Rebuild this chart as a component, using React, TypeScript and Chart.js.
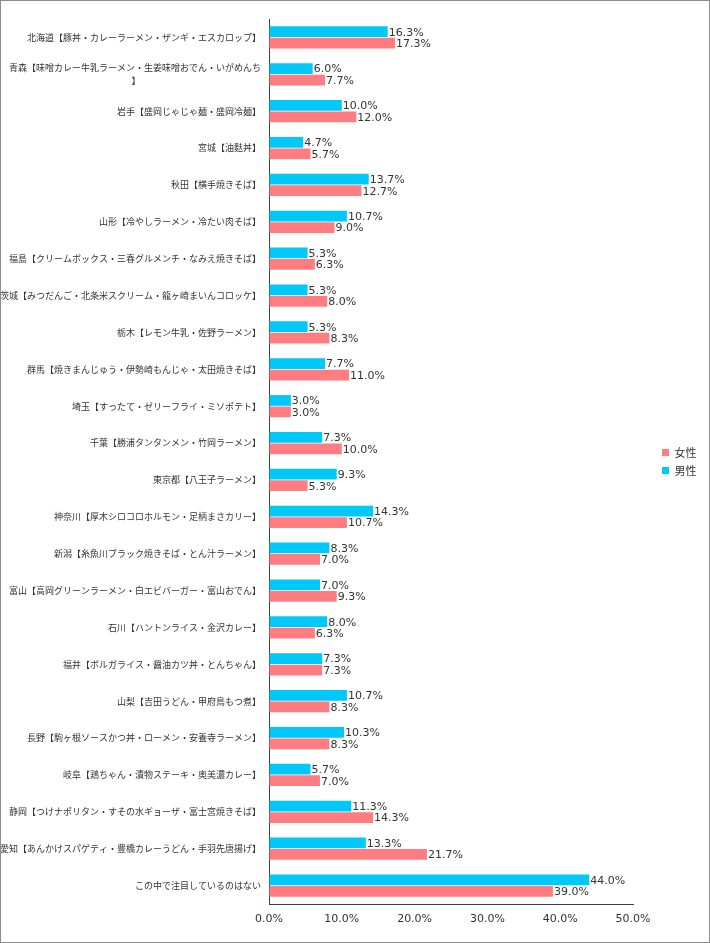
import React, { useEffect, useRef } from "react";
import { Chart, registerables } from "chart.js";

Chart.register(...registerables);

const categories: (string | string[])[] = [
  "北海道【豚丼・カレーラーメン・ザンギ・エスカロップ】",
  ["青森【味噌カレー牛乳ラーメン・生姜味噌おでん・いがめんち", "】"],
  "岩手【盛岡じゃじゃ麺・盛岡冷麺】",
  "宮城【油麩丼】",
  "秋田【横手焼きそば】",
  "山形【冷やしラーメン・冷たい肉そば】",
  "福島【クリームボックス・三春グルメンチ・なみえ焼きそば】",
  "茨城【みつだんご・北条米スクリーム・龍ヶ崎まいんコロッケ】",
  "栃木【レモン牛乳・佐野ラーメン】",
  "群馬【焼きまんじゅう・伊勢崎もんじゃ・太田焼きそば】",
  "埼玉【すったて・ゼリーフライ・ミソポテト】",
  "千葉【勝浦タンタンメン・竹岡ラーメン】",
  "東京都【八王子ラーメン】",
  "神奈川【厚木シロコロホルモン・足柄まさカリー】",
  "新潟【糸魚川ブラック焼きそば・とん汁ラーメン】",
  "富山【高岡グリーンラーメン・白エビバーガー・富山おでん】",
  "石川【ハントンライス・金沢カレー】",
  "福井【ボルガライス・醤油カツ丼・とんちゃん】",
  "山梨【吉田うどん・甲府鳥もつ煮】",
  "長野【駒ヶ根ソースかつ丼・ローメン・安養寺ラーメン】",
  "岐阜【鶏ちゃん・漬物ステーキ・奥美濃カレー】",
  "静岡【つけナポリタン・すその水ギョーザ・富士宮焼きそば】",
  "愛知【あんかけスパゲティ・豊橋カレーうどん・手羽先唐揚げ】",
  "この中で注目しているのはない",
];

const maleValues = [
  16.3, 6.0, 10.0, 4.7, 13.7, 10.7, 5.3, 5.3, 5.3, 7.7, 3.0, 7.3, 9.3, 14.3,
  8.3, 7.0, 8.0, 7.3, 10.7, 10.3, 5.7, 11.3, 13.3, 44.0,
];
const femaleValues = [
  17.3, 7.7, 12.0, 5.7, 12.7, 9.0, 6.3, 8.0, 8.3, 11.0, 3.0, 10.0, 5.3, 10.7,
  7.0, 9.3, 6.3, 7.3, 8.3, 8.3, 7.0, 14.3, 21.7, 39.0,
];

const seriesNames = ["男性", "女性"];
const xTicks = [0, 10, 20, 30, 40, 50];

const MALE_COLOR = "#00C8F8";
const FEMALE_COLOR = "#FF7C80";
const TEXT_COLOR = "#333333";
const NUM_FONT = "DejaVu Sans";
const JP_FONT = "'Noto Sans CJK JP'";
const Y_FONT_SIZE = 9;

// Centre continuation lines under the first line (labels are right-aligned).
function centreLines(label: string | string[]): string | string[] {
  if (!Array.isArray(label)) return label;
  const c = document.createElement("canvas").getContext("2d");
  if (!c) return label;
  c.font = `${Y_FONT_SIZE}px ${JP_FONT}`;
  const w1 = c.measureText(label[0]).width;
  return label.map((line, i) => {
    if (i === 0) return line;
    const target = (w1 + c.measureText(line).width) / 2;
    let s = line;
    while (c.measureText(s + "\u3000").width <= target) s += "\u3000";
    while (c.measureText(s + "\u00A0").width <= target) s += "\u00A0";
    return s;
  });
}

const valueLabelPlugin = {
  id: "valueLabels",
  afterDatasetsDraw(chart: any) {
    const ctx = chart.ctx;
    ctx.save();
    ctx.font = `11px ${NUM_FONT}`;
    ctx.fillStyle = TEXT_COLOR;
    ctx.textAlign = "left";
    ctx.textBaseline = "middle";
    chart.data.datasets.forEach((ds: any, di: number) => {
      const meta = chart.getDatasetMeta(di);
      meta.data.forEach((bar: any, i: number) => {
        const v = ds.data[i];
        ctx.fillText(v.toFixed(1) + "%", bar.x + 1, bar.y + 1);
      });
    });
    ctx.restore();
  },
};

const legendLayoutPlugin = {
  id: "legendLayout",
  beforeUpdate(chart: any) {
    const lg = chart.legend;
    if (lg && !lg.__patched) {
      const origFit = lg.fit.bind(lg);
      lg.fit = function () {
        origFit();
        this.width = 76;
      };
      lg.__patched = true;
    }
  },
  afterLayout(chart: any) {
    const lg = chart.legend;
    if (lg) {
      const w = lg.width;
      lg.left = chart.chartArea.right + 22;
      lg.right = lg.left + w;
    }
  },
};

export default function App() {
  const canvasRef = useRef<HTMLCanvasElement | null>(null);

  useEffect(() => {
    if (!canvasRef.current) return;
    const chart = new Chart(canvasRef.current, {
      type: "bar",
      data: {
        labels: categories.map(centreLines) as any,
        datasets: [
          {
            label: seriesNames[0],
            data: maleValues,
            backgroundColor: MALE_COLOR,
            borderWidth: 0,
            categoryPercentage: 0.62,
            barPercentage: 0.94,
          },
          {
            label: seriesNames[1],
            data: femaleValues,
            backgroundColor: FEMALE_COLOR,
            borderWidth: 0,
            categoryPercentage: 0.62,
            barPercentage: 0.94,
          },
        ],
      },
      options: {
        indexAxis: "y",
        responsive: false,
        animation: false,
        devicePixelRatio: 1,
        layout: { padding: { top: 18, right: 0, bottom: 0, left: 0 } },
        plugins: {
          legend: {
            display: true,
            position: "right",
            align: "center",
            fullSize: false,
            reverse: true,
            labels: {
              boxWidth: 7,
              boxHeight: 7,
              padding: 7,
              color: TEXT_COLOR,
              font: { family: JP_FONT, size: 11 },
            },
          },
          tooltip: { enabled: false },
        },
        scales: {
          x: {
            type: "linear",
            min: xTicks[0],
            max: xTicks[xTicks.length - 1],
            afterBuildTicks: (scale: any) => {
              scale.ticks = xTicks.map((v) => ({ value: v }));
            },
            afterFit: (scale: any) => {
              scale.height = 38;
            },
            grid: { display: true, drawOnChartArea: false, drawTicks: false },
            border: { display: true, color: "#404040", width: 1 },
            ticks: {
              padding: 9,
              color: TEXT_COLOR,
              font: { family: NUM_FONT, size: 11 },
              callback: (v: any) => Number(v).toFixed(1) + "%",
            },
          },
          y: {
            type: "category",
            afterFit: (scale: any) => {
              scale.width = 268;
            },
            grid: { display: true, drawOnChartArea: false, drawTicks: false },
            border: { display: true, color: "#404040", width: 1 },
            ticks: {
              padding: 8,
              autoSkip: false,
              color: TEXT_COLOR,
              font: { family: JP_FONT, size: Y_FONT_SIZE, lineHeight: 1.45 },
            },
          },
        },
      },
      plugins: [valueLabelPlugin, legendLayoutPlugin],
    } as any);
    return () => chart.destroy();
  }, []);

  return (
    <div
      style={{
        position: "absolute",
        left: 0,
        top: 0,
        width: 710,
        height: 943,
        boxSizing: "border-box",
        border: "1px solid #8c8c8c",
        background: "#ffffff",
      }}
    >
      <canvas
        ref={canvasRef}
        width={708}
        height={941}
        style={{ display: "block", width: 708, height: 941 }}
      />
    </div>
  );
}
